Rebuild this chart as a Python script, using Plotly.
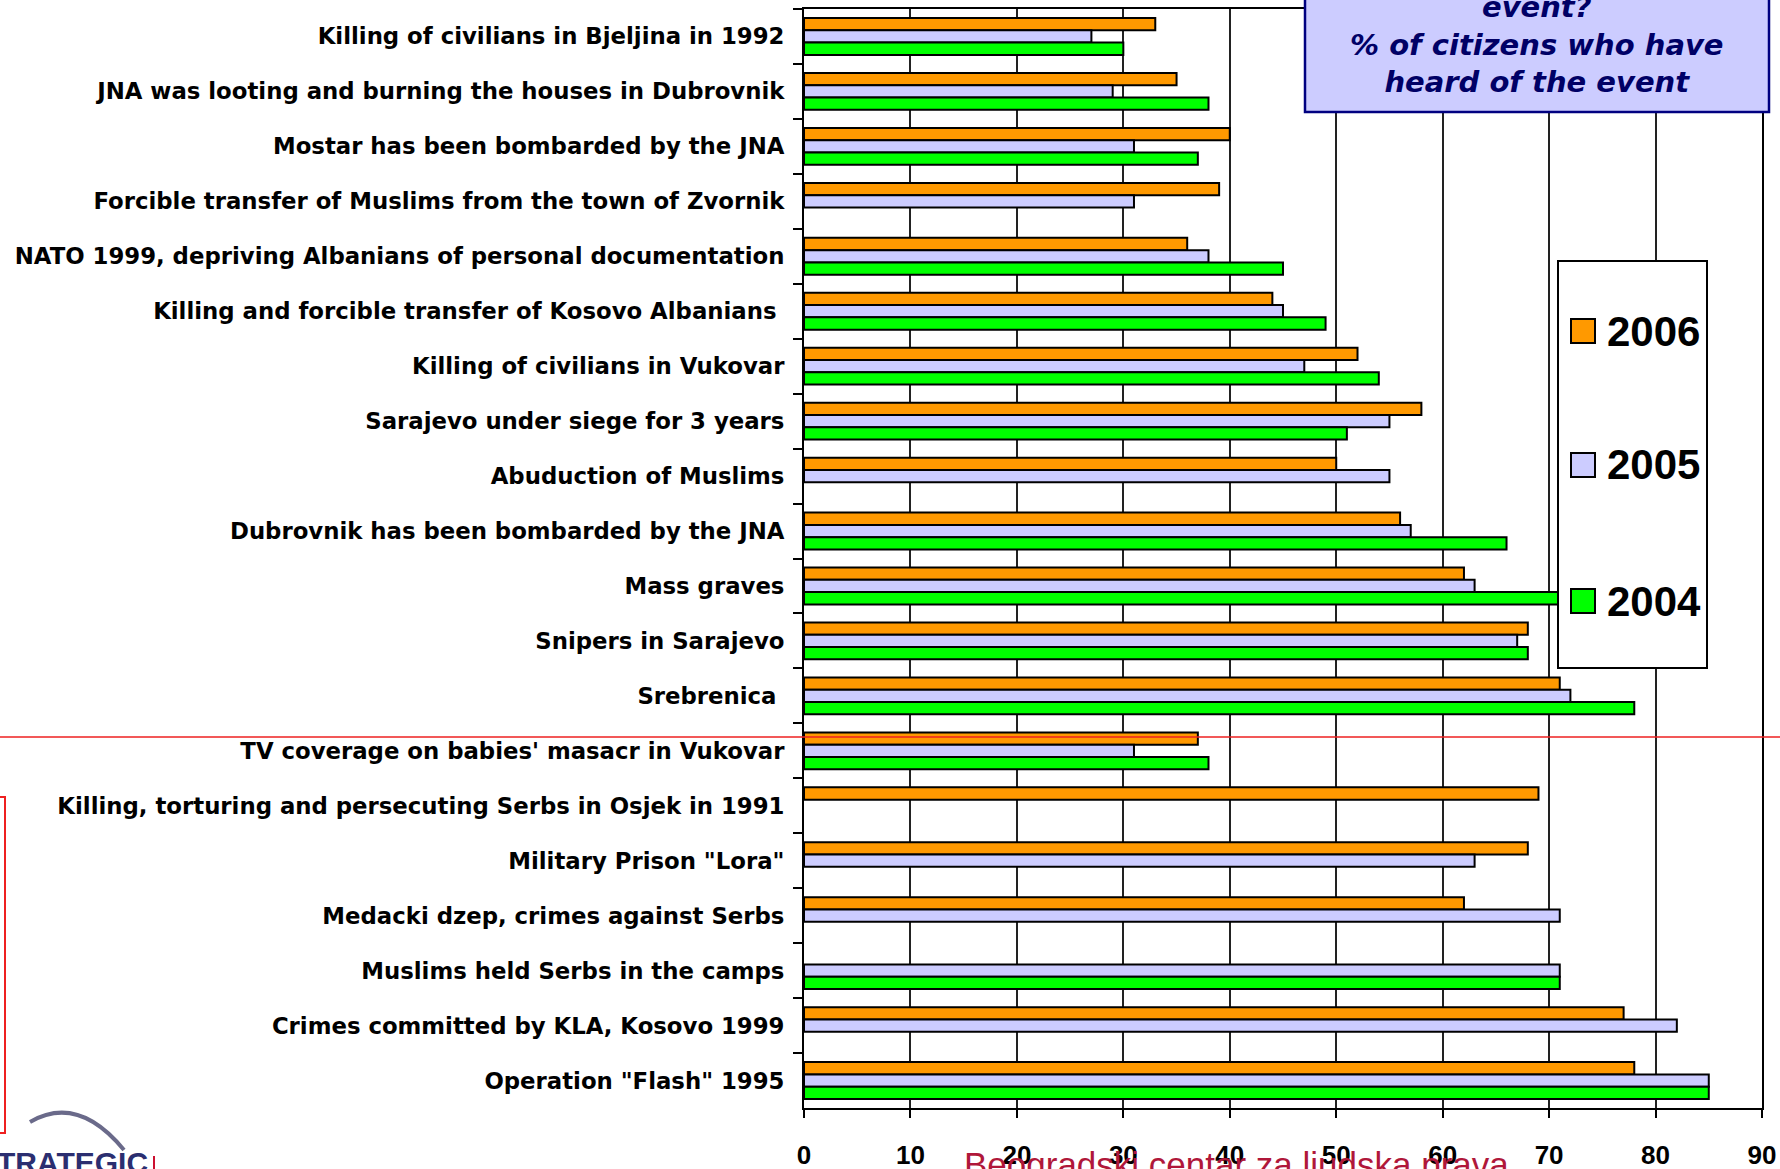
import plotly.graph_objects as go

categories = [
    "Killing of civilians in Bjeljina in 1992",
    "JNA was looting and burning the houses in Dubrovnik",
    "Mostar has been bombarded by the JNA",
    "Forcible transfer of Muslims from the town of Zvornik",
    "NATO 1999, depriving Albanians of personal documentation",
    "Killing and forcible transfer of Kosovo Albanians\u00a0",
    "Killing of civilians in Vukovar",
    "Sarajevo under siege for 3 years",
    "Abuduction of Muslims",
    "Dubrovnik has been bombarded by the JNA",
    "Mass graves",
    "Snipers in Sarajevo",
    "Srebrenica\u00a0",
    "TV coverage on babies' masacr in Vukovar",
    "Killing, torturing and persecuting Serbs in Osjek in 1991",
    "Military Prison \"Lora\"",
    "Medacki dzep, crimes against Serbs",
    "Muslims held Serbs in the camps",
    "Crimes committed by KLA, Kosovo 1999",
    "Operation \"Flash\" 1995",
]

v2006 = [33, 35, 40, 39, 36, 44, 52, 58, 50, 56, 62, 68, 71, 37, 69, 68, 62, None, 77, 78]
v2005 = [27, 29, 31, 31, 38, 45, 47, 55, 55, 57, 63, 67, 72, 31, None, 63, 71, 71, 82, 85]
v2004 = [30, 38, 37, None, 45, 49, 54, 51, None, 66, 71, 68, 78, 38, None, None, None, 71, None, 85]

series_names = ["2006", "2005", "2004"]
series_colors = ["#ff9900", "#ccccff", "#00ff00"]
series_values = [v2006, v2005, v2004]

x_ticks = [0, 10, 20, 30, 40, 50, 60, 70, 80, 90]

title_lines = ["event?", "% of citizens who have", "heard of the event"]
footer_text = "Beogradski centar za ljudska prava"
logo_text = "STRATEGIC"

# ---- geometry (pixels) ----
W, H = 1780, 1169
L, R, T, B = 804, 1762, 9, 1108


def px(x):
    return (x - L) / (R - L)


def py(y):
    return (B - y) / (B - T)


fig = go.Figure()
for name, color, vals in zip(series_names, series_colors, series_values):
    fig.add_trace(go.Bar(
        y=categories, x=vals, name=name, orientation="h",
        marker=dict(color=color, line=dict(color="#000000", width=2)),
        showlegend=False,
    ))

shapes = []
annotations = []

# title box
shapes.append(dict(type="rect", xref="paper", yref="paper",
                   x0=px(1305), x1=px(1769), y0=py(-10), y1=py(112),
                   fillcolor="#ccccff", line=dict(color="#000080", width=2.5),
                   layer="above"))
annotations.append(dict(
    xref="paper", yref="paper", x=px(1537), y=py(101),
    xanchor="center", yanchor="bottom", showarrow=False,
    text="<br>".join(title_lines), align="center",
    font=dict(family="DejaVu Sans", size=29, color="#000066",
              weight="bold", style="italic"),
))

# legend box (manual)
shapes.append(dict(type="rect", xref="paper", yref="paper",
                   x0=px(1558), x1=px(1707), y0=py(668), y1=py(261),
                   fillcolor="#ffffff", line=dict(color="#000000", width=2),
                   layer="above"))
leg_centers = [331, 465, 601]
for name, color, cy in zip(series_names, series_colors, leg_centers):
    shapes.append(dict(type="rect", xref="paper", yref="paper",
                       x0=px(1571), x1=px(1595), y0=py(cy + 12), y1=py(cy - 12),
                       fillcolor=color, line=dict(color="#000000", width=2),
                       layer="above"))
    annotations.append(dict(
        xref="paper", yref="paper", x=px(1605), y=py(cy),
        xanchor="left", yanchor="middle", showarrow=False, text=name,
        font=dict(family="Liberation Sans, Arial", size=42, color="#000000",
                  weight="bold"),
    ))

# red slide overlay lines
shapes.append(dict(type="line", xref="paper", yref="paper",
                   x0=px(0), x1=px(W), y0=py(737), y1=py(737),
                   line=dict(color="#ee2020", width=1.5), layer="above"))
shapes.append(dict(type="path", xref="paper", yref="paper",
                   path=f"M{px(-5)},{py(797)} L{px(5)},{py(797)} L{px(5)},{py(1133)} L{px(-5)},{py(1133)}",
                   line=dict(color="#ee2020", width=2), layer="above"))
shapes.append(dict(type="line", xref="paper", yref="paper",
                   x0=px(154), x1=px(154), y0=py(1156), y1=py(1175),
                   line=dict(color="#cc1030", width=2), layer="above"))

# logo arc
shapes.append(dict(type="path", xref="paper", yref="paper",
                   path=f"M{px(30)},{py(1122)} Q{px(78)},{py(1094)} {px(124)},{py(1150)}",
                   line=dict(color="#6a6a8a", width=4), layer="above"))
annotations.append(dict(
    xref="paper", yref="paper", x=px(150), y=py(1144),
    xanchor="right", yanchor="top", showarrow=False, text=logo_text,
    font=dict(family="Liberation Sans, Arial", size=30, color="#2b2e70", weight="bold"),
))

# footer text
annotations.append(dict(
    xref="paper", yref="paper", x=px(1236), y=py(1143),
    xanchor="center", yanchor="top", showarrow=False, text=footer_text,
    font=dict(family="Liberation Sans, Arial", size=35, color="#b0173a"),
))

fig.update_layout(
    width=W, height=H, autosize=False,
    margin=dict(l=L, r=W - R, t=T, b=H - B, pad=0),
    paper_bgcolor="#ffffff", plot_bgcolor="#ffffff",
    barmode="group", bargap=0.33, bargroupgap=0,
    showlegend=False,
    shapes=shapes, annotations=annotations,
    font=dict(family="Liberation Sans, Arial", color="#000000"),
)

fig.update_xaxes(
    range=[0, 90], tickvals=x_ticks, ticktext=[str(t) for t in x_ticks],
    automargin=False,
    showgrid=True, gridcolor="#222222", gridwidth=2,
    zeroline=False, showline=True, linecolor="#000000", linewidth=2, mirror=True,
    ticks="outside", ticklen=8, tickwidth=2, tickcolor="#000000",
    ticklabelstandoff=15,
    tickfont=dict(family="Liberation Sans, Arial", size=26, color="#000000", weight="bold"),
)
fig.update_yaxes(
    autorange="reversed", type="category", automargin=False,
    showgrid=False, zeroline=False,
    showline=True, linecolor="#000000", linewidth=2, mirror=True,
    ticks="outside", tickson="boundaries", ticklen=9, tickwidth=2, tickcolor="#000000",
    ticklabelstandoff=13,
    tickfont=dict(family="DejaVu Sans", size=22.8, color="#000000", weight="bold"),
)

fig.write_html("out.html", config={"displayModeBar": False},
               post_script="document.body.style.margin='0';document.body.style.overflow='hidden';")
